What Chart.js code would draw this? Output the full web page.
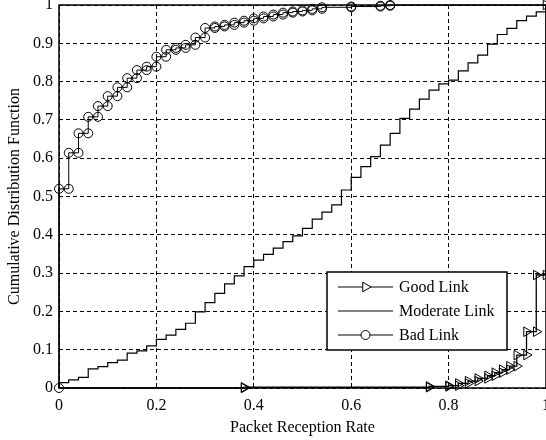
<!DOCTYPE html>
<html lang="en">
<head>
  <meta charset="UTF-8">
  <title>Packet Reception Rate CDF</title>
  <script src="https://cdn.jsdelivr.net/npm/chart.js"></script>
  <style>
    body {
      margin: 0;
      background-color: #fff;
    }
  </style>
</head>
<body>

<canvas id="cdfChart" width="546" height="440"></canvas>

<script>
  // axis ticks
  var rateTicks = [0, 0.2, 0.4, 0.6, 0.8, 1];
  var cdfTicks = [0, 0.1, 0.2, 0.3, 0.4, 0.5, 0.6, 0.7, 0.8, 0.9, 1];

  // each link: reception rates where the CDF steps, and the level after the step
  var goodSteps  = [0.38, 0.76, 0.80, 0.82, 0.84, 0.86, 0.88, 0.895, 0.91, 0.925, 0.94, 0.96, 0.98, 1.0];
  var goodLevels = [0.002, 0.004, 0.006, 0.012, 0.018, 0.025, 0.032, 0.040, 0.048, 0.057, 0.086, 0.147, 0.295, 1.0];

  var moderateSteps = [0, 0.02, 0.04, 0.06, 0.08, 0.10, 0.12, 0.14, 0.16, 0.18,
                       0.20, 0.22, 0.24, 0.26, 0.28, 0.30, 0.32, 0.34, 0.36, 0.38,
                       0.40, 0.42, 0.44, 0.46, 0.48, 0.50, 0.52, 0.54, 0.56, 0.58,
                       0.60, 0.62, 0.64, 0.66, 0.68, 0.70, 0.72, 0.74, 0.76, 0.78,
                       0.80, 0.82, 0.84, 0.86, 0.88, 0.90, 0.92, 0.94, 0.96, 0.98, 1.0];
  var moderateLevels = [0.014, 0.021, 0.028, 0.050, 0.056, 0.066, 0.073, 0.091, 0.097, 0.110,
                        0.127, 0.138, 0.153, 0.169, 0.199, 0.223, 0.247, 0.272, 0.293, 0.317,
                        0.334, 0.349, 0.365, 0.382, 0.397, 0.417, 0.441, 0.459, 0.478, 0.517,
                        0.550, 0.578, 0.604, 0.634, 0.665, 0.704, 0.728, 0.754, 0.778, 0.794,
                        0.804, 0.828, 0.849, 0.869, 0.898, 0.923, 0.939, 0.959, 0.971, 0.982, 1.0];

  var badSteps  = [0, 0.02, 0.04, 0.06, 0.08, 0.10, 0.12, 0.14, 0.16, 0.18,
                   0.20, 0.22, 0.24, 0.26, 0.28, 0.30, 0.32, 0.34, 0.36, 0.38,
                   0.40, 0.42, 0.44, 0.46, 0.48, 0.50, 0.52, 0.54, 0.60, 0.66, 0.68];
  var badLevels = [0.52, 0.614, 0.665, 0.708, 0.736, 0.762, 0.785, 0.809, 0.830, 0.839,
                   0.865, 0.883, 0.888, 0.896, 0.915, 0.940, 0.944, 0.948, 0.954, 0.959,
                   0.965, 0.970, 0.975, 0.980, 0.983, 0.986, 0.990, 0.994, 0.996, 0.998, 1.0];

  var serif = 'Liberation Serif';

  // turn step positions into stair vertices (one marker on every corner)
  function stairs(steps, levels, marked) {
    var pts = [{x: 0, y: 0, mark: false}];
    var prev = 0;
    for (var i = 0; i < steps.length; i++) {
      pts.push({x: steps[i], y: prev, mark: marked});
      pts.push({x: steps[i], y: levels[i], mark: marked});
      prev = levels[i];
    }
    pts.push({x: 1, y: prev, mark: false});
    return pts;
  }

  function markRadius(size) {
    return function(c) {
      return c.raw && c.raw.mark ? size : 0;
    };
  }

  // box round the plot area
  var framePlugin = {
    id: 'frame',
    beforeDatasetsDraw: function(chart) {
      var a = chart.chartArea, ctx = chart.ctx;
      ctx.save();
      ctx.strokeStyle = '#000';
      ctx.lineWidth = 1.5;
      ctx.strokeRect(a.left, a.top, a.right - a.left, a.bottom - a.top);
      ctx.restore();
    }
  };

  // boxed legend sitting inside the plot, lower right
  var boxLegend = {
    id: 'boxLegend',
    afterDraw: function(chart) {
      var ctx = chart.ctx;
      var bx = 327, by = 272, bw = 180, bh = 78;
      ctx.save();
      ctx.fillStyle = '#fff';
      ctx.fillRect(bx, by, bw, bh);
      ctx.strokeStyle = '#000';
      ctx.lineWidth = 1.5;
      ctx.strokeRect(bx, by, bw, bh);

      ctx.font = '16px "' + serif + '"';
      ctx.textBaseline = 'middle';
      ctx.textAlign = 'left';
      chart.data.datasets.forEach(function(ds, i) {
        var y = by + 15 + i * 24;
        ctx.strokeStyle = '#000';
        ctx.lineWidth = 1;
        ctx.beginPath();
        ctx.moveTo(338, y);
        ctx.lineTo(393, y);
        ctx.stroke();
        if (ds.pointStyle) {
          ctx.fillStyle = '#fff';
          Chart.helpers.drawPoint(ctx, {
            pointStyle: ds.pointStyle,
            rotation: ds.pointRotation || 0,
            radius: ds.legendRadius,
            borderWidth: 1
          }, 365.5, y);
        }
        ctx.fillStyle = '#000';
        ctx.fillText(ds.label, 399, y + 1);
      });
      ctx.restore();
    }
  };

  var ctx = document.getElementById('cdfChart').getContext('2d');

  var cdfChart = new Chart(ctx, {
    type: 'line',
    data: {
      datasets: [{
        label: 'Good Link',
        data: stairs(goodSteps, goodLevels, true),
        borderColor: '#000',
        borderWidth: 1.3,
        pointStyle: 'triangle',
        pointRotation: 90,
        pointRadius: markRadius(5.5),
        legendRadius: 5.5,
        pointBorderColor: '#000',
        pointBackgroundColor: 'rgba(0,0,0,0)',
        pointBorderWidth: 1,
        clip: false
      }, {
        label: 'Moderate Link',
        data: stairs(moderateSteps, moderateLevels, false),
        borderColor: '#000',
        borderWidth: 1.2,
        pointRadius: 0,
        clip: false
      }, {
        label: 'Bad Link',
        data: stairs(badSteps, badLevels, true),
        borderColor: '#000',
        borderWidth: 1,
        pointStyle: 'circle',
        pointRadius: markRadius(4.5),
        legendRadius: 4.5,
        pointBorderColor: '#000',
        pointBackgroundColor: 'rgba(0,0,0,0)',
        pointBorderWidth: 1,
        clip: false
      }]
    },
    options: {
      responsive: false,
      animation: false,
      layout: { padding: 0 },
      elements: { line: { tension: 0 } },
      scales: {
        x: {
          type: 'linear',
          min: 0,
          max: 1,
          afterBuildTicks: function(s) {
            s.ticks = rateTicks.map(function(v) { return {value: v}; });
          },
          afterFit: function(s) {
            s.height = 52;
            s.paddingLeft = 0;
            s.paddingRight = 0;
          },
          ticks: {
            color: '#000',
            font: {family: serif, size: 16},
            padding: 8,
            maxRotation: 0,
            autoSkip: false,
            callback: function(v) { return String(+v.toFixed(1)); }
          },
          grid: { color: '#000', lineWidth: 1, drawTicks: false },
          border: { display: false, dash: [4, 3] },
          title: {
            display: true,
            text: 'Packet Reception Rate',
            color: '#000',
            font: {family: serif, size: 16},
            padding: {top: 0, bottom: 3}
          }
        },
        y: {
          min: 0,
          max: 1,
          afterBuildTicks: function(s) {
            s.ticks = cdfTicks.map(function(v) { return {value: v}; });
          },
          afterFit: function(s) {
            s.width = 59;
            s.paddingTop = 5;
            s.paddingBottom = 0;
          },
          ticks: {
            color: '#000',
            font: {family: serif, size: 16},
            padding: 6,
            autoSkip: false,
            callback: function(v) { return String(+v.toFixed(1)); }
          },
          grid: { color: '#000', lineWidth: 1, drawTicks: false },
          border: { display: false, dash: [4, 3] },
          title: {
            display: true,
            text: 'Cumulative Distribution Function',
            color: '#000',
            font: {family: serif, size: 16},
            padding: {top: 5, bottom: 0}
          }
        }
      },
      plugins: {
        legend: { display: false },
        tooltip: { enabled: false }
      }
    },
    plugins: [framePlugin, boxLegend]
  });
</script>

</body>
</html>
